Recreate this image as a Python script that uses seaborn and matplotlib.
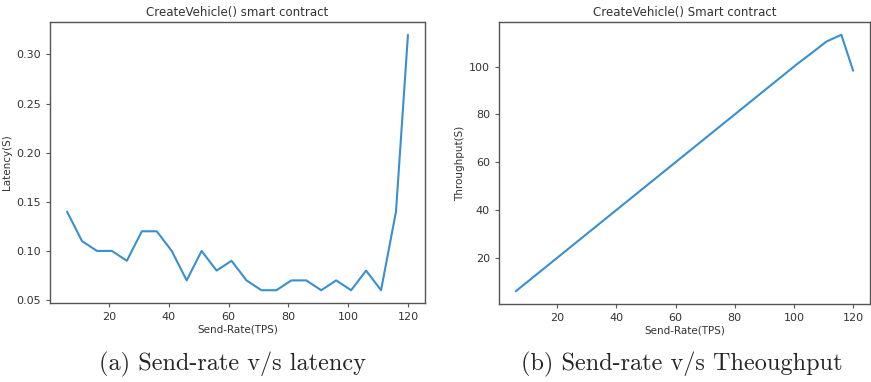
import numpy as np
import pandas as pd
import matplotlib
matplotlib.use('Agg')
import matplotlib.pyplot as plt
import seaborn as sns

# 数据
send_rate = [6, 11, 16, 21, 26, 31, 36, 41, 46, 51, 56, 61, 66, 71, 76, 81,
             86, 91, 96, 101, 106, 111, 116, 120]
latency = [0.14, 0.11, 0.10, 0.10, 0.09, 0.12, 0.12, 0.10, 0.07, 0.10, 0.08,
           0.09, 0.07, 0.06, 0.06, 0.07, 0.07, 0.06, 0.07, 0.06, 0.08, 0.06,
           0.14, 0.32]
throughput = [6, 11, 16, 21, 26, 31, 36, 41, 46, 51, 56, 61, 66, 71, 76, 81,
              86, 91, 96, 101, 105.7, 110.5, 113.3, 98.3]
titles = ['CreateVehicle() smart contract', 'CreateVehicle() Smart contract']
ylabels = ['Latency(S)', 'Throughput(S)']
captions = ['(a) Send-rate v/s latency', '(b) Send-rate v/s Theoughput']

df = pd.DataFrame({'rate': send_rate, 'latency': latency, 'throughput': throughput})

sns.set_style('ticks')
plt.rcParams['font.family'] = ['DejaVu Sans']
plt.rcParams['axes.edgecolor'] = '#555555'
plt.rcParams['xtick.color'] = '#555555'
plt.rcParams['ytick.color'] = '#555555'
plt.rcParams['xtick.labelcolor'] = '#333333'
plt.rcParams['ytick.labelcolor'] = '#333333'

fig = plt.figure(figsize=(8.71, 3.82), dpi=100)
ax1 = fig.add_axes([50 / 871, 1 - 303 / 382, 375 / 871, 281 / 382])
ax2 = fig.add_axes([499 / 871, 1 - 304 / 382, 371 / 871, 282 / 382])

for ax, col, title, ylab in zip([ax1, ax2], ['latency', 'throughput'], titles, ylabels):
    sns.lineplot(data=df, x='rate', y=col, ax=ax, color='#3a8fd0', linewidth=1.5)
    ax.set_title(title, fontsize=8.5, color='#333333', pad=4)
    ax.set_xlabel('Send-Rate(TPS)', fontsize=7.5, color='#333333', labelpad=2)
    ax.set_ylabel(ylab, fontsize=7.5, color='#333333', labelpad=3)
    ax.tick_params(labelsize=8, length=3, width=0.8)
    ax.set_xticks([20, 40, 60, 80, 100, 120])
    for s in ax.spines.values():
        s.set_linewidth(1.0)

ax1.set_yticks([0.05, 0.10, 0.15, 0.20, 0.25, 0.30])
ax1.set_yticklabels(['0.05', '0.10', '0.15', '0.20', '0.25', '0.30'])
ax2.set_yticks([20, 40, 60, 80, 100])

fig.text(232 / 871, 1 - 364 / 382, captions[0], ha='center', va='center',
         fontsize=17.5, family=['cmr10'])
fig.text(682 / 871, 1 - 364 / 382, captions[1], ha='center', va='center',
         fontsize=17.5, family=['cmr10'])

fig.savefig('out.png', dpi=100)
